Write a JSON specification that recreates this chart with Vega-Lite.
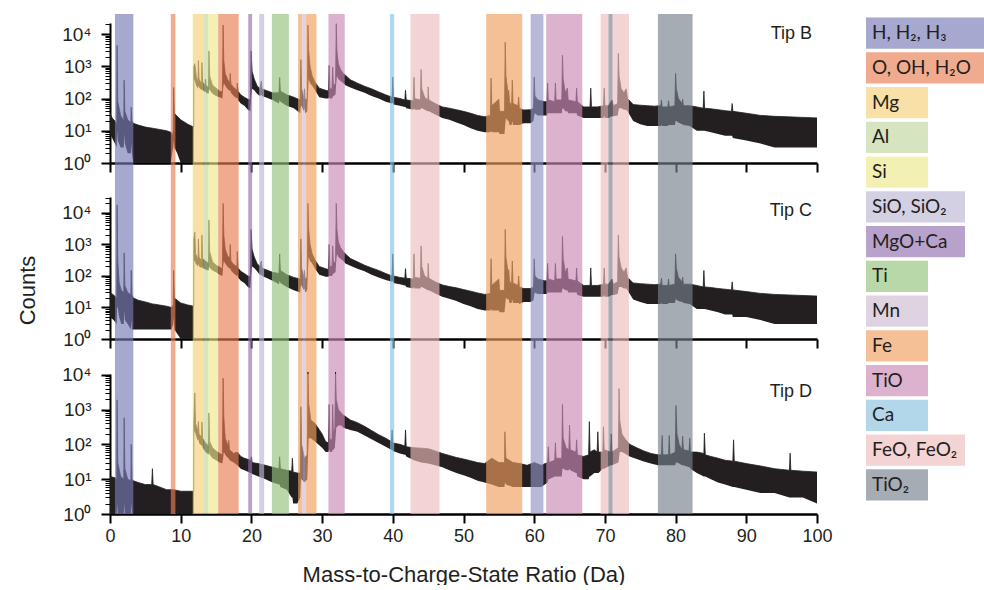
{
"$schema": "https://vega.github.io/schema/vega-lite/v6.json",
"padding": {"left": 16, "top": 14, "right": 0, "bottom": 0},
"autosize": {"type": "pad"},
"spacing": 33,
"config": {"view": {"stroke": null}, "font": "Liberation Sans"},
"datasets": {
"bands": [
{"sp":"H","a":0.7,"b":3.3},{"sp":"O","a":8.6,"b":9.25},{"sp":"Mg","a":11.7,"b":13.2},{"sp":"Al","a":13.2,"b":13.9},{"sp":"Si","a":13.9,"b":15.3},{"sp":"O","a":15.3,"b":18.2},{"sp":"MgOCa","a":19.55,"b":20.1},{"sp":"SiO","a":21.1,"b":21.8},{"sp":"Ti","a":22.9,"b":25.3},{"sp":"Fe","a":26.6,"b":27.2},{"sp":"Mn","a":27.2,"b":27.7},{"sp":"Fe","a":27.7,"b":29.2},{"sp":"TiO","a":30.9,"b":33.2},{"sp":"Ca","a":39.6,"b":40.2},{"sp":"FeO","a":42.5,"b":46.6},{"sp":"Fe","a":53.2,"b":58.3},{"sp":"SiO2","a":59.5,"b":61.3},{"sp":"TiO","a":61.7,"b":66.8},{"sp":"FeO","a":69.4,"b":70.5},{"sp":"TiO2","a":70.5,"b":71.1},{"sp":"FeO","a":71.1,"b":73.4},{"sp":"TiO2","a":77.5,"b":82.4}
],
"leg": [
{"sp":"H","label":"H, H₂, H₃"},{"sp":"O","label":"O, OH, H₂O"},{"sp":"Mg","label":"Mg"},{"sp":"Al","label":"Al"},{"sp":"Si","label":"Si"},{"sp":"SiO","label":"SiO, SiO₂"},{"sp":"MgOCa","label":"MgO+Ca"},{"sp":"Ti","label":"Ti"},{"sp":"Mn","label":"Mn"},{"sp":"Fe","label":"Fe"},{"sp":"TiO","label":"TiO"},{"sp":"Ca","label":"Ca"},{"sp":"FeO","label":"FeO, FeO₂"},{"sp":"TiO2","label":"TiO₂"}
],
"B": [
{"m":0,"h":35,"l":8},{"m":0.3,"h":25,"l":6},{"m":0.7,"h":20,"l":4},{"m":0.95,"h":15,"l":3},{"m":1.0,"h":4500,"l":10},{"m":1.1,"h":80,"l":5},{"m":1.5,"h":30,"l":3},{"m":1.95,"h":20,"l":3},{"m":2.0,"h":370,"l":8},{"m":2.1,"h":40,"l":4},{"m":2.5,"h":22,"l":2},{"m":2.95,"h":18,"l":2},{"m":3.0,"h":54,"l":4},{"m":3.1,"h":20,"l":2},{"m":3.3,"h":17,"l":1},{"m":4,"h":15,"l":1},{"m":5,"h":13,"l":1},{"m":6,"h":12,"l":1},{"m":7,"h":11,"l":1},{"m":8,"h":10,"l":1},{"m":8.6,"h":9,"l":1},{"m":8.8,"h":7,"l":2},{"m":8.95,"h":10,"l":3},{"m":9.0,"h":220,"l":5},{"m":9.1,"h":35,"l":3},{"m":9.5,"h":28,"l":2},{"m":10,"h":22,"l":1},{"m":11,"h":16,"l":1},{"m":11.84,"h":13,"l":1},
{"m":11.86,"h":1000,"l":400},{"m":12.0,"h":1200,"l":350},{"m":12.2,"h":500,"l":250},{"m":12.45,"h":320,"l":200},{"m":12.5,"h":1500,"l":250},{"m":12.6,"h":400,"l":220},{"m":12.95,"h":280,"l":180},{"m":13.0,"h":1300,"l":200},{"m":13.1,"h":330,"l":180},{"m":13.45,"h":250,"l":160},{"m":13.5,"h":400,"l":170},{"m":13.6,"h":250,"l":150},{"m":13.95,"h":220,"l":140},{"m":14.0,"h":3000,"l":200},{"m":14.1,"h":500,"l":180},{"m":14.5,"h":260,"l":140},{"m":15.0,"h":210,"l":120},{"m":15.5,"h":170,"l":110},{"m":15.9,"h":160,"l":100},{"m":16.0,"h":19000,"l":200},{"m":16.1,"h":1500,"l":300},{"m":16.3,"h":600,"l":250},{"m":16.6,"h":400,"l":200},{"m":16.95,"h":300,"l":170},{"m":17.0,"h":600,"l":180},{"m":17.1,"h":280,"l":150},{"m":17.5,"h":220,"l":120},{"m":17.95,"h":180,"l":100},{"m":18.0,"h":300,"l":110},{"m":18.1,"h":170,"l":90},{"m":18.5,"h":130,"l":70},{"m":19.0,"h":110,"l":60},{"m":19.5,"h":95,"l":45},{"m":19.85,"h":90,"l":40},{"m":19.95,"h":3000,"l":100},{"m":20.1,"h":700,"l":200},{"m":20.4,"h":400,"l":180},{"m":20.8,"h":250,"l":140},{"m":21.2,"h":200,"l":120},{"m":21.4,"h":350,"l":130},{"m":21.5,"h":200,"l":120},{"m":22.0,"h":180,"l":110},{"m":23.0,"h":150,"l":90},{"m":23.9,"h":150,"l":70},{"m":24.0,"h":450,"l":90},{"m":24.1,"h":170,"l":80},{"m":25.0,"h":130,"l":60},{"m":26.0,"h":110,"l":50},{"m":26.9,"h":90,"l":35},{"m":27.0,"h":1600,"l":60},{"m":27.1,"h":200,"l":60},{"m":27.4,"h":100,"l":40},{"m":27.5,"h":200,"l":50},{"m":27.6,"h":90,"l":35},{"m":27.9,"h":100,"l":40},{"m":28.0,"h":19000,"l":150},{"m":28.1,"h":3000,"l":400},{"m":28.3,"h":1000,"l":300},{"m":28.6,"h":500,"l":250},{"m":29.0,"h":320,"l":180},{"m":29.6,"h":210,"l":110},{"m":30.5,"h":180,"l":100},{"m":30.9,"h":170,"l":100},{"m":31.0,"h":1070,"l":110},{"m":31.1,"h":200,"l":100},{"m":31.4,"h":200,"l":100},{"m":31.5,"h":930,"l":110},{"m":31.6,"h":250,"l":120},{"m":31.9,"h":300,"l":130},{"m":32.0,"h":21000,"l":300},{"m":32.1,"h":3000,"l":500},{"m":32.3,"h":1200,"l":400},{"m":32.6,"h":800,"l":350},{"m":33.0,"h":600,"l":300},{"m":33.3,"h":530,"l":260},{"m":34.0,"h":380,"l":220},{"m":35.0,"h":300,"l":180},{"m":36.0,"h":240,"l":150},{"m":37.0,"h":200,"l":120},{"m":38.0,"h":160,"l":100},{"m":39.0,"h":130,"l":80},{"m":39.9,"h":110,"l":70},{"m":40.0,"h":460,"l":75},{"m":40.1,"h":110,"l":65},{"m":41.0,"h":100,"l":60},{"m":41.7,"h":90,"l":55},{"m":41.8,"h":180,"l":55},{"m":41.9,"h":90,"l":50},{"m":42.9,"h":85,"l":45},{"m":43.0,"h":460,"l":50},{"m":43.1,"h":100,"l":45},{"m":43.9,"h":90,"l":45},{"m":44.0,"h":800,"l":50},{"m":44.1,"h":200,"l":50},{"m":44.5,"h":110,"l":45},{"m":44.95,"h":90,"l":40},{"m":45.0,"h":230,"l":40},{"m":45.1,"h":90,"l":40},{"m":46.0,"h":70,"l":32},{"m":47.0,"h":55,"l":25},{"m":48.0,"h":50,"l":22},{"m":49.0,"h":45,"l":18},{"m":50.0,"h":40,"l":15},{"m":51.0,"h":35,"l":12},{"m":52.0,"h":30,"l":10},{"m":53.0,"h":27,"l":9},{"m":53.8,"h":30,"l":9},{"m":53.9,"h":430,"l":10},{"m":54.0,"h":60,"l":9},{"m":55.0,"h":95,"l":9},{"m":55.1,"h":40,"l":8},{"m":55.8,"h":40,"l":8},{"m":55.9,"h":5600,"l":15},{"m":56.0,"h":500,"l":25},{"m":56.3,"h":150,"l":20},{"m":56.4,"h":180,"l":20},{"m":56.5,"h":80,"l":15},{"m":56.8,"h":60,"l":15},{"m":56.9,"h":370,"l":20},{"m":57.0,"h":70,"l":15},{"m":57.7,"h":60,"l":15},{"m":57.8,"h":110,"l":15},{"m":57.9,"h":50,"l":15},{"m":58.5,"h":44,"l":17},{"m":59.5,"h":45,"l":17},{"m":59.9,"h":50,"l":20},{"m":60.0,"h":460,"l":30},{"m":60.1,"h":120,"l":35},{"m":60.5,"h":90,"l":30},{"m":61.5,"h":80,"l":30},{"m":61.8,"h":80,"l":30},{"m":61.9,"h":300,"l":35},{"m":62.0,"h":90,"l":35},{"m":62.9,"h":80,"l":35},{"m":63.0,"h":300,"l":35},{"m":63.1,"h":90,"l":35},{"m":63.9,"h":90,"l":35},{"m":64.0,"h":2200,"l":50},{"m":64.1,"h":400,"l":50},{"m":64.4,"h":150,"l":40},{"m":64.7,"h":210,"l":40},{"m":64.8,"h":90,"l":35},{"m":65.9,"h":80,"l":35},{"m":66.0,"h":210,"l":35},{"m":66.1,"h":80,"l":30},{"m":67.0,"h":55,"l":25},{"m":67.9,"h":55,"l":25},{"m":68.0,"h":210,"l":25},{"m":68.1,"h":55,"l":25},{"m":69.0,"h":55,"l":25},{"m":69.8,"h":60,"l":25},{"m":69.9,"h":210,"l":30},{"m":70.0,"h":60,"l":25},{"m":70.5,"h":60,"l":25},{"m":71.0,"h":90,"l":28},{"m":71.2,"h":60,"l":28},{"m":71.8,"h":70,"l":30},{"m":71.9,"h":2500,"l":40},{"m":72.0,"h":500,"l":50},{"m":72.3,"h":200,"l":50},{"m":72.7,"h":150,"l":45},{"m":73.0,"h":200,"l":45},{"m":73.2,"h":100,"l":40},{"m":74.0,"h":65,"l":20},{"m":75.0,"h":62,"l":16},{"m":76.0,"h":60,"l":14},{"m":77.0,"h":58,"l":14},{"m":77.9,"h":60,"l":14},{"m":78.0,"h":90,"l":15},{"m":78.1,"h":55,"l":14},{"m":78.9,"h":55,"l":14},{"m":79.0,"h":85,"l":15},{"m":79.1,"h":55,"l":15},{"m":79.9,"h":60,"l":15},{"m":80.0,"h":600,"l":20},{"m":80.1,"h":200,"l":20},{"m":80.4,"h":100,"l":18},{"m":80.9,"h":70,"l":16},{"m":81.0,"h":95,"l":16},{"m":81.1,"h":60,"l":15},{"m":82.0,"h":60,"l":14},{"m":83.0,"h":55,"l":10},{"m":83.9,"h":50,"l":10},{"m":84.0,"h":170,"l":10},{"m":84.1,"h":50,"l":10},{"m":85.0,"h":48,"l":9},{"m":86.0,"h":45,"l":8},{"m":87.0,"h":42,"l":7},{"m":87.9,"h":40,"l":7},{"m":88.0,"h":70,"l":7},{"m":88.1,"h":40,"l":6},{"m":90.0,"h":35,"l":5},{"m":92.0,"h":30,"l":4},{"m":94.0,"h":28,"l":3},{"m":96.0,"h":27,"l":3},{"m":98.0,"h":26,"l":3},{"m":100.0,"h":25,"l":3}
],
"C": [
{"m":0,"h":30,"l":5},{"m":0.5,"h":25,"l":4},{"m":0.95,"h":20,"l":3},{"m":1.0,"h":18000,"l":10},{"m":1.1,"h":300,"l":10},{"m":1.3,"h":60,"l":5},{"m":1.6,"h":35,"l":3},{"m":1.95,"h":30,"l":3},{"m":2.0,"h":540,"l":8},{"m":2.1,"h":50,"l":4},{"m":2.5,"h":30,"l":3},{"m":2.95,"h":25,"l":2},{"m":3.0,"h":150,"l":4},{"m":3.1,"h":25,"l":2},{"m":3.3,"h":20,"l":2},{"m":4,"h":17,"l":2},{"m":5,"h":15,"l":2},{"m":6,"h":13,"l":2},{"m":7,"h":12,"l":2},{"m":8,"h":11,"l":2},{"m":8.7,"h":10,"l":2},{"m":8.95,"h":12,"l":3},{"m":9.0,"h":150,"l":5},{"m":9.1,"h":20,"l":2},{"m":10,"h":14,"l":1},{"m":11,"h":12,"l":1},{"m":11.84,"h":11,"l":1},
{"m":11.86,"h":1500,"l":300},{"m":12.0,"h":2500,"l":300},{"m":12.1,"h":500,"l":250},{"m":12.45,"h":350,"l":200},{"m":12.5,"h":1500,"l":250},{"m":12.6,"h":400,"l":200},{"m":12.95,"h":300,"l":180},{"m":13.0,"h":2000,"l":200},{"m":13.1,"h":350,"l":180},{"m":13.5,"h":300,"l":160},{"m":13.95,"h":250,"l":150},{"m":14.0,"h":6000,"l":200},{"m":14.1,"h":600,"l":180},{"m":14.5,"h":280,"l":150},{"m":15.0,"h":220,"l":130},{"m":15.5,"h":190,"l":110},{"m":15.9,"h":170,"l":100},{"m":16.0,"h":20000,"l":200},{"m":16.1,"h":2000,"l":300},{"m":16.3,"h":700,"l":250},{"m":16.6,"h":450,"l":200},{"m":16.95,"h":350,"l":170},{"m":17.0,"h":1000,"l":180},{"m":17.1,"h":300,"l":150},{"m":17.5,"h":230,"l":120},{"m":17.95,"h":200,"l":100},{"m":18.0,"h":600,"l":110},{"m":18.1,"h":180,"l":90},{"m":18.5,"h":140,"l":70},{"m":19.0,"h":120,"l":60},{"m":19.5,"h":100,"l":45},{"m":19.85,"h":95,"l":40},{"m":19.95,"h":3000,"l":100},{"m":20.1,"h":700,"l":200},{"m":20.4,"h":400,"l":180},{"m":20.8,"h":250,"l":140},{"m":21.2,"h":200,"l":110},{"m":21.4,"h":300,"l":110},{"m":21.5,"h":180,"l":100},{"m":22.0,"h":160,"l":90},{"m":23.0,"h":130,"l":70},{"m":23.9,"h":120,"l":55},{"m":24.0,"h":500,"l":70},{"m":24.1,"h":150,"l":60},{"m":25.0,"h":110,"l":45},{"m":26.0,"h":90,"l":35},{"m":26.9,"h":80,"l":30},{"m":27.0,"h":1500,"l":50},{"m":27.1,"h":180,"l":50},{"m":27.4,"h":90,"l":35},{"m":27.5,"h":150,"l":40},{"m":27.6,"h":80,"l":30},{"m":27.9,"h":90,"l":35},{"m":28.0,"h":20000,"l":150},{"m":28.1,"h":3000,"l":400},{"m":28.3,"h":1000,"l":300},{"m":28.6,"h":500,"l":250},{"m":29.0,"h":320,"l":170},{"m":29.6,"h":200,"l":110},{"m":30.5,"h":170,"l":95},{"m":30.9,"h":160,"l":95},{"m":31.0,"h":1000,"l":100},{"m":31.1,"h":200,"l":100},{"m":31.4,"h":200,"l":100},{"m":31.5,"h":900,"l":110},{"m":31.6,"h":250,"l":120},{"m":31.9,"h":300,"l":130},{"m":32.0,"h":20000,"l":300},{"m":32.1,"h":3000,"l":500},{"m":32.3,"h":1200,"l":400},{"m":32.6,"h":800,"l":350},{"m":33.0,"h":600,"l":300},{"m":33.3,"h":500,"l":250},{"m":34.0,"h":360,"l":210},{"m":35.0,"h":280,"l":170},{"m":36.0,"h":220,"l":140},{"m":37.0,"h":180,"l":110},{"m":38.0,"h":150,"l":90},{"m":39.0,"h":120,"l":75},{"m":39.9,"h":100,"l":65},{"m":40.0,"h":500,"l":70},{"m":40.1,"h":100,"l":60},{"m":41.0,"h":90,"l":55},{"m":41.7,"h":85,"l":50},{"m":41.8,"h":170,"l":50},{"m":41.9,"h":85,"l":45},{"m":42.9,"h":80,"l":40},{"m":43.0,"h":500,"l":45},{"m":43.1,"h":90,"l":40},{"m":43.9,"h":85,"l":40},{"m":44.0,"h":900,"l":45},{"m":44.1,"h":200,"l":45},{"m":44.5,"h":100,"l":40},{"m":44.95,"h":85,"l":35},{"m":45.0,"h":250,"l":35},{"m":45.1,"h":85,"l":35},{"m":46.0,"h":65,"l":28},{"m":47.0,"h":52,"l":22},{"m":48.0,"h":46,"l":19},{"m":49.0,"h":42,"l":16},{"m":50.0,"h":37,"l":13},{"m":51.0,"h":33,"l":11},{"m":52.0,"h":29,"l":9},{"m":53.0,"h":26,"l":8},{"m":53.8,"h":28,"l":8},{"m":53.9,"h":350,"l":9},{"m":54.0,"h":50,"l":8},{"m":55.0,"h":80,"l":8},{"m":55.1,"h":35,"l":7},{"m":55.8,"h":35,"l":7},{"m":55.9,"h":3000,"l":12},{"m":56.0,"h":400,"l":20},{"m":56.3,"h":130,"l":18},{"m":56.4,"h":160,"l":18},{"m":56.5,"h":70,"l":14},{"m":56.8,"h":55,"l":14},{"m":56.9,"h":300,"l":18},{"m":57.0,"h":60,"l":14},{"m":57.7,"h":50,"l":14},{"m":57.8,"h":100,"l":14},{"m":57.9,"h":45,"l":13},{"m":58.5,"h":40,"l":15},{"m":59.5,"h":40,"l":15},{"m":59.9,"h":45,"l":17},{"m":60.0,"h":350,"l":25},{"m":60.1,"h":100,"l":30},{"m":60.5,"h":80,"l":27},{"m":61.5,"h":70,"l":27},{"m":61.8,"h":70,"l":27},{"m":61.9,"h":250,"l":30},{"m":62.0,"h":80,"l":30},{"m":62.9,"h":70,"l":30},{"m":63.0,"h":250,"l":30},{"m":63.1,"h":80,"l":30},{"m":63.9,"h":80,"l":30},{"m":64.0,"h":1800,"l":40},{"m":64.1,"h":350,"l":40},{"m":64.4,"h":130,"l":35},{"m":64.7,"h":180,"l":35},{"m":64.8,"h":80,"l":30},{"m":65.9,"h":70,"l":30},{"m":66.0,"h":180,"l":30},{"m":66.1,"h":70,"l":25},{"m":67.0,"h":50,"l":22},{"m":67.9,"h":50,"l":22},{"m":68.0,"h":180,"l":22},{"m":68.1,"h":50,"l":22},{"m":69.0,"h":50,"l":22},{"m":69.8,"h":55,"l":22},{"m":69.9,"h":180,"l":25},{"m":70.0,"h":55,"l":22},{"m":70.5,"h":55,"l":22},{"m":71.0,"h":80,"l":25},{"m":71.2,"h":55,"l":25},{"m":71.8,"h":65,"l":27},{"m":71.9,"h":2000,"l":35},{"m":72.0,"h":400,"l":45},{"m":72.3,"h":180,"l":45},{"m":72.7,"h":130,"l":40},{"m":73.0,"h":180,"l":40},{"m":73.2,"h":90,"l":35},{"m":74.0,"h":60,"l":18},{"m":75.0,"h":57,"l":15},{"m":76.0,"h":55,"l":13},{"m":77.0,"h":53,"l":13},{"m":77.9,"h":55,"l":13},{"m":78.0,"h":85,"l":14},{"m":78.1,"h":50,"l":13},{"m":78.9,"h":50,"l":13},{"m":79.0,"h":80,"l":14},{"m":79.1,"h":50,"l":14},{"m":79.9,"h":55,"l":14},{"m":80.0,"h":500,"l":18},{"m":80.1,"h":180,"l":18},{"m":80.4,"h":90,"l":16},{"m":80.9,"h":65,"l":15},{"m":81.0,"h":90,"l":15},{"m":81.1,"h":55,"l":14},{"m":82.0,"h":55,"l":13},{"m":83.0,"h":50,"l":9},{"m":83.9,"h":45,"l":9},{"m":84.0,"h":150,"l":9},{"m":84.1,"h":45,"l":9},{"m":85.0,"h":43,"l":8},{"m":86.0,"h":40,"l":7},{"m":87.0,"h":38,"l":6},{"m":87.9,"h":36,"l":6},{"m":88.0,"h":65,"l":6},{"m":88.1,"h":36,"l":5},{"m":90.0,"h":32,"l":5},{"m":92.0,"h":28,"l":4},{"m":94.0,"h":26,"l":3},{"m":96.0,"h":25,"l":3},{"m":98.0,"h":24,"l":3},{"m":100.0,"h":23,"l":3}
],
"D": [
{"m":0,"h":12,"l":1},{"m":0.7,"h":11,"l":1},{"m":0.95,"h":10,"l":1},{"m":1.0,"h":1900,"l":2},{"m":1.1,"h":30,"l":1},{"m":1.5,"h":12,"l":1},{"m":1.95,"h":10,"l":1},{"m":2.0,"h":580,"l":2},{"m":2.1,"h":20,"l":1},{"m":2.5,"h":10,"l":1},{"m":2.95,"h":9,"l":1},{"m":3.0,"h":100,"l":2},{"m":3.1,"h":10,"l":1},{"m":3.3,"h":9,"l":1},{"m":4,"h":8,"l":1},{"m":5,"h":7,"l":1},{"m":5.9,"h":7,"l":1},{"m":6.0,"h":20,"l":1},{"m":6.1,"h":7,"l":1},{"m":7,"h":6,"l":1},{"m":8,"h":5,"l":1},{"m":9.0,"h":5,"l":1},{"m":10,"h":4.5,"l":1},{"m":11,"h":4.5,"l":1},{"m":11.84,"h":4.5,"l":1},
{"m":11.86,"h":400,"l":200},{"m":12.0,"h":3000,"l":250},{"m":12.1,"h":400,"l":200},{"m":12.4,"h":250,"l":130},{"m":12.5,"h":450,"l":140},{"m":12.6,"h":200,"l":110},{"m":12.95,"h":160,"l":90},{"m":13.0,"h":440,"l":100},{"m":13.1,"h":150,"l":80},{"m":13.5,"h":110,"l":60},{"m":13.95,"h":90,"l":50},{"m":14.0,"h":800,"l":60},{"m":14.1,"h":120,"l":50},{"m":14.5,"h":80,"l":40},{"m":15.0,"h":65,"l":35},{"m":15.5,"h":55,"l":30},{"m":15.9,"h":50,"l":28},{"m":16.0,"h":8000,"l":40},{"m":16.1,"h":600,"l":60},{"m":16.3,"h":150,"l":50},{"m":16.7,"h":90,"l":40},{"m":16.8,"h":130,"l":40},{"m":16.9,"h":70,"l":35},{"m":17.5,"h":55,"l":30},{"m":18.0,"h":60,"l":25},{"m":18.5,"h":45,"l":20},{"m":19.0,"h":40,"l":18},{"m":19.9,"h":35,"l":15},{"m":20.0,"h":44,"l":15},{"m":20.1,"h":30,"l":14},{"m":21.0,"h":28,"l":12},{"m":22.0,"h":25,"l":10},{"m":23.0,"h":22,"l":8},{"m":23.9,"h":20,"l":7},{"m":24.0,"h":44,"l":7},{"m":24.1,"h":20,"l":6},{"m":25.0,"h":18,"l":5},{"m":25.7,"h":17,"l":3},{"m":25.8,"h":40,"l":3},{"m":25.9,"h":16,"l":2},{"m":26.5,"h":15,"l":2},{"m":26.9,"h":15,"l":3},{"m":27.0,"h":1200,"l":10},{"m":27.1,"h":100,"l":10},{"m":27.5,"h":40,"l":8},{"m":27.9,"h":50,"l":10},{"m":28.0,"h":12000,"l":40},{"m":28.1,"h":1500,"l":150},{"m":28.4,"h":500,"l":150},{"m":29.0,"h":400,"l":120},{"m":30.0,"h":200,"l":80},{"m":30.5,"h":120,"l":60},{"m":30.9,"h":110,"l":60},{"m":31.0,"h":1400,"l":70},{"m":31.1,"h":150,"l":60},{"m":31.4,"h":130,"l":60},{"m":31.5,"h":1400,"l":70},{"m":31.6,"h":200,"l":70},{"m":31.8,"h":300,"l":80},{"m":31.9,"h":12000,"l":150},{"m":32.0,"h":2000,"l":300},{"m":32.3,"h":1000,"l":350},{"m":32.7,"h":800,"l":350},{"m":33.0,"h":700,"l":300},{"m":34.0,"h":500,"l":260},{"m":35.0,"h":420,"l":230},{"m":36.0,"h":330,"l":180},{"m":37.0,"h":250,"l":140},{"m":38.0,"h":190,"l":110},{"m":39.0,"h":150,"l":85},{"m":39.8,"h":120,"l":70},{"m":39.9,"h":260,"l":70},{"m":40.0,"h":110,"l":65},{"m":41.0,"h":100,"l":55},{"m":41.7,"h":90,"l":50},{"m":41.8,"h":260,"l":50},{"m":41.9,"h":85,"l":45},{"m":43.0,"h":80,"l":35},{"m":44.0,"h":78,"l":30},{"m":45.0,"h":75,"l":28},{"m":46.0,"h":65,"l":25},{"m":47.0,"h":55,"l":22},{"m":48.0,"h":48,"l":18},{"m":49.0,"h":42,"l":15},{"m":50.0,"h":38,"l":13},{"m":51.0,"h":34,"l":11},{"m":52.0,"h":30,"l":9},{"m":53.0,"h":28,"l":8},{"m":54.0,"h":40,"l":7},{"m":55.0,"h":30,"l":6},{"m":55.8,"h":30,"l":6},{"m":55.85,"h":230,"l":8},{"m":56.0,"h":40,"l":7},{"m":57.0,"h":30,"l":6},{"m":58.0,"h":28,"l":6},{"m":59.0,"h":25,"l":6},{"m":60.0,"h":30,"l":6},{"m":61.0,"h":25,"l":6},{"m":61.9,"h":30,"l":8},{"m":62.0,"h":85,"l":10},{"m":62.1,"h":30,"l":10},{"m":62.9,"h":35,"l":12},{"m":63.0,"h":110,"l":12},{"m":63.1,"h":40,"l":12},{"m":63.9,"h":40,"l":12},{"m":64.0,"h":1400,"l":20},{"m":64.1,"h":150,"l":20},{"m":64.5,"h":80,"l":18},{"m":64.9,"h":70,"l":18},{"m":65.0,"h":360,"l":20},{"m":65.1,"h":70,"l":18},{"m":65.9,"h":60,"l":15},{"m":66.0,"h":135,"l":15},{"m":66.1,"h":50,"l":12},{"m":67.0,"h":45,"l":10},{"m":67.7,"h":50,"l":10},{"m":67.8,"h":450,"l":12},{"m":67.9,"h":60,"l":12},{"m":68.5,"h":70,"l":15},{"m":68.9,"h":60,"l":15},{"m":69.0,"h":230,"l":15},{"m":69.1,"h":60,"l":15},{"m":69.7,"h":60,"l":20},{"m":69.8,"h":320,"l":20},{"m":69.9,"h":70,"l":20},{"m":70.8,"h":60,"l":25},{"m":70.9,"h":200,"l":25},{"m":71.0,"h":60,"l":25},{"m":71.9,"h":80,"l":30},{"m":72.0,"h":4000,"l":40},{"m":72.1,"h":500,"l":60},{"m":72.4,"h":200,"l":60},{"m":72.8,"h":150,"l":55},{"m":73.5,"h":100,"l":45},{"m":74.5,"h":80,"l":38},{"m":75.5,"h":65,"l":32},{"m":76.5,"h":55,"l":28},{"m":77.5,"h":50,"l":25},{"m":78.0,"h":50,"l":25},{"m":78.1,"h":180,"l":25},{"m":78.2,"h":50,"l":25},{"m":79.0,"h":50,"l":25},{"m":79.1,"h":180,"l":25},{"m":79.2,"h":50,"l":25},{"m":79.95,"h":60,"l":25},{"m":80.05,"h":1300,"l":30},{"m":80.2,"h":200,"l":30},{"m":80.5,"h":100,"l":28},{"m":80.9,"h":70,"l":25},{"m":81.0,"h":170,"l":25},{"m":81.1,"h":70,"l":25},{"m":81.9,"h":65,"l":22},{"m":82.0,"h":150,"l":22},{"m":82.1,"h":60,"l":20},{"m":83.0,"h":60,"l":15},{"m":84.0,"h":55,"l":12},{"m":84.07,"h":210,"l":12},{"m":84.2,"h":50,"l":12},{"m":85.0,"h":45,"l":10},{"m":86.0,"h":40,"l":8},{"m":87.0,"h":35,"l":7},{"m":88.1,"h":33,"l":6},{"m":88.2,"h":135,"l":6},{"m":88.3,"h":33,"l":6},{"m":90.0,"h":28,"l":5},{"m":92.0,"h":24,"l":4},{"m":94.0,"h":20,"l":4},{"m":96.1,"h":18,"l":3},{"m":96.2,"h":56,"l":3},{"m":96.3,"h":18,"l":3},{"m":98.0,"h":17,"l":3},{"m":100.0,"h":16,"l":2}
]
},
"hconcat": [
{
"vconcat": [
{
"width": 707, "height": 183,
"layer": [
{"data": {"name": "B"}, "mark": {"type": "area", "color": "#231f20", "opacity": 1, "line": {"color": "#231f20", "strokeWidth": 0.8}},
 "encoding": {
  "x": {"field": "m", "type": "quantitative", "scale": {"domain": [0, 100], "nice": false},
   "axis": {"title": null, "labels": false, "grid": false, "offset": -34, "values": [0,5,10,15,20,25,30,35,40,45,50,55,60,65,70,75,80,85,90,95,100], "domainColor": "#000", "domainWidth": 2.5, "tickColor": "#000", "tickSize": {"condition": {"test": "datum.value % 10 === 0", "value": 9}, "value": 5}, "tickWidth": {"condition": {"test": "datum.value % 10 === 0", "value": 2}, "value": 1.5}}},
  "y": {"field": "h", "type": "quantitative", "scale": {"type": "log", "domain": [1, 22000], "range": [149, 9], "nice": false},
   "axis": {"title": null, "grid": false, "values": [1,2,3,4,5,6,7,8,9,10,20,30,40,50,60,70,80,90,100,200,300,400,500,600,700,800,900,1000,2000,3000,4000,5000,6000,7000,8000,9000,10000,20000], "labelOverlap": false, "labelFlush": false, "labelExpr": "datum.value === 1 ? '10⁰' : datum.value === 10 ? '10¹' : datum.value === 100 ? '10²' : datum.value === 1000 ? '10³' : datum.value === 10000 ? '10⁴' : ''", "labelFontSize": 19, "labelColor": "#231f20", "labelPadding": 10, "domainColor": "#000", "domainWidth": 2, "tickColor": "#000", "tickSize": {"condition": {"test": "indexof([1,10,100,1000,10000], datum.value) >= 0", "value": 9}, "value": 5}, "tickWidth": {"condition": {"test": "indexof([1,10,100,1000,10000], datum.value) >= 0", "value": 2}, "value": 1}}},
  "y2": {"field": "l"}}},
{"data": {"name": "bands"}, "mark": {"type": "rect", "opacity": 0.65}, "encoding": {"x": {"field": "a", "type": "quantitative"}, "x2": {"field": "b"}, "color": {"field": "sp", "type": "nominal", "legend": null, "scale": {"domain": ["H","O","Mg","Al","Si","SiO","MgOCa","Ti","Mn","Fe","TiO","Ca","FeO","TiO2","SiO2"], "range": ["#7679b7","#e87e53","#f4cf76","#c0d69e","#ece88a","#bbb7d4","#9270af","#93c37c","#cebbd2","#f09e5e","#c988b5","#88c0df","#ecbbbb","#75808c","#9093c0"]}}}},
{"data": {"values": [{"tip": "Tip B"}]}, "mark": {"type": "text", "align": "right", "baseline": "alphabetic", "fontSize": 18, "color": "#231f20"}, "encoding": {"x": {"datum": 99.3}, "y": {"datum": 7000}, "text": {"field": "tip"}}}
]
},
{
"width": 707, "height": 177,
"layer": [
{"data": {"name": "C"}, "mark": {"type": "area", "color": "#231f20", "opacity": 1, "line": {"color": "#231f20", "strokeWidth": 0.8}},
 "encoding": {
  "x": {"field": "m", "type": "quantitative", "scale": {"domain": [0, 100], "nice": false},
   "axis": {"title": null, "labels": false, "grid": false, "offset": -35, "values": [0,5,10,15,20,25,30,35,40,45,50,55,60,65,70,75,80,85,90,95,100], "domainColor": "#000", "domainWidth": 2.5, "tickColor": "#000", "tickSize": {"condition": {"test": "datum.value % 10 === 0", "value": 9}, "value": 5}, "tickWidth": {"condition": {"test": "datum.value % 10 === 0", "value": 2}, "value": 1.5}}},
  "y": {"field": "h", "type": "quantitative", "scale": {"type": "log", "domain": [1, 32000], "range": [142, 0], "nice": false},
   "axis": {"title": "Counts", "titleFontSize": 22, "titleFontWeight": "normal", "titleColor": "#231f20", "titleY": 93, "titlePadding": 22, "grid": false, "values": [1,2,3,4,5,6,7,8,9,10,20,30,40,50,60,70,80,90,100,200,300,400,500,600,700,800,900,1000,2000,3000,4000,5000,6000,7000,8000,9000,10000,20000,30000], "labelOverlap": false, "labelFlush": false, "labelExpr": "datum.value === 1 ? '10⁰' : datum.value === 10 ? '10¹' : datum.value === 100 ? '10²' : datum.value === 1000 ? '10³' : datum.value === 10000 ? '10⁴' : ''", "labelFontSize": 19, "labelColor": "#231f20", "labelPadding": 10, "domainColor": "#000", "domainWidth": 2, "tickColor": "#000", "tickSize": {"condition": {"test": "indexof([1,10,100,1000,10000], datum.value) >= 0", "value": 9}, "value": 5}, "tickWidth": {"condition": {"test": "indexof([1,10,100,1000,10000], datum.value) >= 0", "value": 2}, "value": 1}}},
  "y2": {"field": "l"}}},
{"data": {"name": "bands"}, "mark": {"type": "rect", "opacity": 0.65}, "encoding": {"x": {"field": "a", "type": "quantitative"}, "x2": {"field": "b"}, "color": {"field": "sp", "type": "nominal", "legend": null, "scale": {"domain": ["H","O","Mg","Al","Si","SiO","MgOCa","Ti","Mn","Fe","TiO","Ca","FeO","TiO2","SiO2"], "range": ["#7679b7","#e87e53","#f4cf76","#c0d69e","#ece88a","#bbb7d4","#9270af","#93c37c","#cebbd2","#f09e5e","#c988b5","#88c0df","#ecbbbb","#75808c","#9093c0"]}}}},
{"data": {"values": [{"tip": "Tip C"}]}, "mark": {"type": "text", "align": "right", "baseline": "alphabetic", "fontSize": 18, "color": "#231f20"}, "encoding": {"x": {"datum": 99.3}, "y": {"datum": 8000}, "text": {"field": "tip"}}}
]
},
{
"width": 707, "height": 140,
"layer": [
{"data": {"name": "D"}, "mark": {"type": "area", "color": "#231f20", "opacity": 1, "line": {"color": "#231f20", "strokeWidth": 0.8}},
 "encoding": {
  "x": {"field": "m", "type": "quantitative", "scale": {"domain": [0, 100], "nice": false},
   "axis": {"title": "Mass-to-Charge-State Ratio (Da)", "titleFontSize": 22, "titleFontWeight": "normal", "titleColor": "#231f20", "titlePadding": 19, "labelExpr": "datum.value % 10 === 0 ? datum.label : ''", "labelFontSize": 18, "labelColor": "#231f20", "labelPadding": 4, "labelFlush": false, "labelOverlap": false, "grid": false, "values": [0,5,10,15,20,25,30,35,40,45,50,55,60,65,70,75,80,85,90,95,100], "domainColor": "#000", "domainWidth": 2.5, "tickColor": "#000", "tickSize": {"condition": {"test": "datum.value % 10 === 0", "value": 9}, "value": 5}, "tickWidth": {"condition": {"test": "datum.value % 10 === 0", "value": 2}, "value": 1.5}}},
  "y": {"field": "h", "type": "quantitative", "scale": {"type": "log", "domain": [1, 10500], "range": [140, 0], "nice": false},
   "axis": {"title": null, "grid": false, "values": [1,2,3,4,5,6,7,8,9,10,20,30,40,50,60,70,80,90,100,200,300,400,500,600,700,800,900,1000,2000,3000,4000,5000,6000,7000,8000,9000,10000], "labelOverlap": false, "labelFlush": false, "labelExpr": "datum.value === 1 ? '10⁰' : datum.value === 10 ? '10¹' : datum.value === 100 ? '10²' : datum.value === 1000 ? '10³' : datum.value === 10000 ? '10⁴' : ''", "labelFontSize": 19, "labelColor": "#231f20", "labelPadding": 10, "domainColor": "#000", "domainWidth": 2, "tickColor": "#000", "tickSize": {"condition": {"test": "indexof([1,10,100,1000,10000], datum.value) >= 0", "value": 9}, "value": 5}, "tickWidth": {"condition": {"test": "indexof([1,10,100,1000,10000], datum.value) >= 0", "value": 2}, "value": 1}}},
  "y2": {"field": "l"}}},
{"data": {"name": "bands"}, "mark": {"type": "rect", "opacity": 0.65}, "encoding": {"x": {"field": "a", "type": "quantitative"}, "x2": {"field": "b"}, "color": {"field": "sp", "type": "nominal", "legend": null, "scale": {"domain": ["H","O","Mg","Al","Si","SiO","MgOCa","Ti","Mn","Fe","TiO","Ca","FeO","TiO2","SiO2"], "range": ["#7679b7","#e87e53","#f4cf76","#c0d69e","#ece88a","#bbb7d4","#9270af","#93c37c","#cebbd2","#f09e5e","#c988b5","#88c0df","#ecbbbb","#75808c","#9093c0"]}}}},
{"data": {"values": [{"tip": "Tip D"}]}, "mark": {"type": "text", "align": "right", "baseline": "alphabetic", "fontSize": 18, "color": "#231f20"}, "encoding": {"x": {"datum": 99.3}, "y": {"datum": 2300}, "text": {"field": "tip"}}}
]
}
],
"spacing": 0,
"bounds": "flush",
"resolve": {"scale": {"x": "independent", "y": "independent"}}
},
{
"width": 118, "height": 490,
"data": {"name": "leg"},
"encoding": {"y": {"field": "sp", "type": "nominal", "scale": {"domain": ["H","O","Mg","Al","Si","SiO","MgOCa","Ti","Mn","Fe","TiO","Ca","FeO","TiO2"], "paddingInner": 0.1, "paddingOuter": 0.1}, "axis": null}},
"layer": [
{"transform": [{"filter": {"field": "sp", "oneOf": ["H", "O"]}}], "mark": {"type": "rect", "opacity": 0.65}, "encoding": {"x": {"datum": 0, "type": "quantitative", "scale": {"domain": [0, 118], "nice": false}, "axis": null}, "x2": {"datum": 118}, "color": {"field": "sp", "type": "nominal", "legend": null}}},
{"transform": [{"filter": {"field": "sp", "oneOf": ["SiO", "MgOCa", "FeO"]}}], "mark": {"type": "rect", "opacity": 0.65}, "encoding": {"x": {"datum": 0, "type": "quantitative"}, "x2": {"datum": 99}, "color": {"field": "sp", "type": "nominal", "legend": null}}},
{"transform": [{"filter": {"field": "sp", "oneOf": ["Mg", "Al", "Si", "Ti", "Mn", "Fe", "TiO", "Ca", "TiO2"]}}], "mark": {"type": "rect", "opacity": 0.65}, "encoding": {"x": {"datum": 0, "type": "quantitative"}, "x2": {"datum": 62}, "color": {"field": "sp", "type": "nominal", "legend": null}}},
{"mark": {"type": "text", "align": "left", "baseline": "middle", "dx": 6, "fontSize": 19, "font": "Lato", "color": "#231f20"}, "encoding": {"x": {"datum": 0, "type": "quantitative"}, "text": {"field": "label"}}}
]
}
]
}
